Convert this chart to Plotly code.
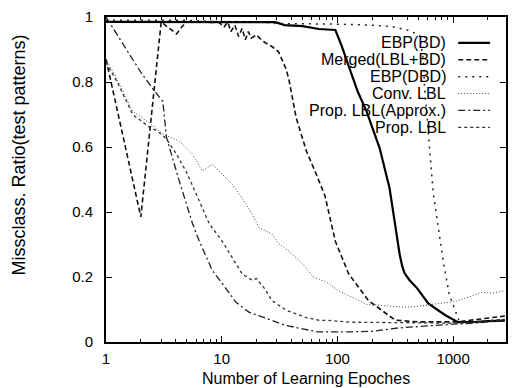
import plotly.graph_objects as go

# ---------------- data ----------------
labels = ["EBP(BD)", "Merged(LBL+BD)", "EBP(DBD)", "Conv. LBL",
          "Prop. LBL(Approx.)", "Prop. LBL"]

ebp_bd_x = [1, 2, 5, 10, 20, 29, 35, 50, 69, 96, 108, 128, 150, 179, 232, 282,
            300, 324, 345, 362, 380, 420, 482, 610, 850, 1100, 1300, 1600, 2000,
            2800]
ebp_bd_y = [0.985, 0.985, 0.985, 0.985, 0.985, 0.984, 0.975, 0.972, 0.963, 0.96,
            0.914, 0.841, 0.77, 0.709, 0.596, 0.474, 0.41, 0.321, 0.27, 0.235,
            0.212, 0.19, 0.168, 0.119, 0.083, 0.061, 0.061, 0.062, 0.064, 0.066]

merged_x = [1, 2, 3, 4.07, 4.9, 7, 9.5, 10.5, 11.3, 12, 13, 14, 15, 16, 17, 18,
            20, 22, 24, 27, 31, 36, 38, 44, 54, 65, 78, 96, 125, 185, 260, 316,
            500, 800, 1100, 1500, 2000, 2800]
merged_y = [0.87, 0.385, 0.985, 0.948, 0.985, 0.985, 0.983, 0.97, 0.985, 0.955,
            0.975, 0.94, 0.965, 0.93, 0.955, 0.935, 0.945, 0.93, 0.92, 0.91, 0.893,
            0.84, 0.81, 0.69, 0.587, 0.52, 0.45, 0.31, 0.21, 0.128, 0.089, 0.067,
            0.062, 0.061, 0.062, 0.068, 0.074, 0.08]

ebp_dbd_x = [1, 5, 10, 20, 30, 50, 100, 200, 300, 400, 511, 553, 565, 611, 648,
             674, 745, 822, 925, 1040, 1128, 1500, 2000, 2800]
ebp_dbd_y = [0.99, 0.99, 0.985, 0.985, 0.98, 0.98, 0.978, 0.975, 0.97, 0.96,
             0.945, 0.87, 0.79, 0.64, 0.517, 0.456, 0.352, 0.248, 0.147, 0.098,
             0.064, 0.062, 0.066, 0.07]

conv_x = [1, 1.24, 1.7, 2.25, 3.1, 4.3, 5.6, 6.8, 8.3, 10.1, 12.3, 15, 18.3, 21,
          24, 27, 31, 38.6, 50, 62, 80, 104, 140, 177, 250, 390, 500, 667, 850,
          1050, 1400, 1780, 2200, 2800]
conv_y = [0.87, 0.81, 0.71, 0.68, 0.64, 0.618, 0.578, 0.526, 0.547, 0.517, 0.486,
          0.443, 0.394, 0.352, 0.343, 0.333, 0.303, 0.278, 0.24, 0.20, 0.185,
          0.156, 0.135, 0.116, 0.112, 0.107, 0.11, 0.116, 0.12, 0.125, 0.14,
          0.153, 0.15, 0.158]

approx_x = [1, 1.5, 2, 2.53, 3.1, 3.33, 4.3, 5.6, 6.4, 7.4, 8.3, 10.1, 13.3, 17.2,
            22, 27, 35, 46, 68, 124, 200, 333, 600, 1000, 1500, 2000, 2800]
approx_y = [1.0, 0.9, 0.83, 0.78, 0.74, 0.63, 0.495, 0.364, 0.31, 0.26, 0.22, 0.18,
            0.122, 0.092, 0.078, 0.067, 0.052, 0.043, 0.031, 0.031, 0.033, 0.043,
            0.05, 0.055, 0.058, 0.062, 0.067]

prop_x = [1, 1.25, 1.7, 2.4, 2.75, 3.3, 4.07, 5, 6.4, 7.8, 10.1, 12, 15, 18.3, 20,
          24, 27, 36, 53, 69, 90, 124, 200, 333, 600, 1000, 1500, 2000, 2800]
prop_y = [0.86, 0.80, 0.70, 0.66, 0.65, 0.627, 0.578, 0.52, 0.434, 0.364, 0.31,
          0.265, 0.21, 0.19, 0.195, 0.16, 0.128, 0.098, 0.076, 0.067, 0.066, 0.061,
          0.06, 0.058, 0.058, 0.058, 0.06, 0.065, 0.07]

xs = [ebp_bd_x, merged_x, ebp_dbd_x, conv_x, approx_x, prop_x]
ys = [ebp_bd_y, merged_y, ebp_dbd_y, conv_y, approx_y, prop_y]

x_tickvals = [1, 10, 100, 1000]
x_ticktext = ["1", "10", "100", "1000"]
x_minor = [m * d for d in (1, 10, 100, 1000) for m in range(2, 10)]
y_tickvals = [0, 0.2, 0.4, 0.6, 0.8, 1]
y_ticktext = ["0", "0.2", "0.4", "0.6", "0.8", "1"]

x_title = "Number of Learning Epoches"
y_title = "Missclass. Ratio(test patterns)"

# ---------------- styles ----------------
styles = [
    dict(width=2.2, dash="solid", color="#000"),
    dict(width=1.6, dash="5px,3px", color="#111"),
    dict(width=1.5, dash="2px,5px", color="#222"),
    dict(width=1.0, dash="1px,2px", color="#444"),
    dict(width=1.3, dash="7px,3px,2px,3px", color="#222"),
    dict(width=1.3, dash="3px,3px", color="#333"),
]

W, H = 516, 388
L, R, T, B = 106, 8, 15, 46
PW, PH = W - L - R, H - T - B

fig = go.Figure()
for lab, x, y, st in zip(labels, xs, ys, styles):
    fig.add_trace(go.Scatter(x=x, y=y, mode="lines", name=lab, line=st,
                             showlegend=False))

font = "Liberation Sans, Arial, sans-serif"

# manual legend (text right-aligned, sample on the right)
leg_y_px = [41, 58, 75, 92, 109, 126]
for lab, st, ypx in zip(labels, styles, leg_y_px):
    yp = (H - B - ypx) / PH
    fig.add_annotation(x=(450 - L) / PW, y=yp, xref="paper", yref="paper",
                       text=lab, showarrow=False, xanchor="right",
                       yanchor="middle", font=dict(family=font, size=16,
                                                   color="#000"))
    fig.add_shape(type="line", xref="paper", yref="paper",
                  x0=(460 - L) / PW, x1=(492 - L) / PW, y0=yp, y1=yp,
                  line=dict(color=st["color"], width=st["width"],
                            dash=st["dash"]))

fig.add_annotation(x=0.5, y=-(378.5 - (H - B)) / PH, xref="paper", yref="paper",
                   text=x_title, showarrow=False, xanchor="center",
                   yanchor="middle", font=dict(family=font, size=16, color="#000"))
fig.add_annotation(x=(19 - L) / PW, y=(H - B - 154) / PH, xref="paper",
                   yref="paper", text=y_title, showarrow=False, textangle=-90,
                   xanchor="center", yanchor="middle",
                   font=dict(family=font, size=18, color="#000"))

fig.update_layout(
    width=W, height=H,
    margin=dict(l=L, r=R, t=T, b=B),
    paper_bgcolor="white", plot_bgcolor="white",
    font=dict(family=font, size=15, color="#000"),
)
fig.update_xaxes(type="log", range=[0, 3.457],
                 tickvals=x_tickvals, ticktext=x_ticktext,
                 ticks="inside", ticklen=6, tickwidth=1.2, tickcolor="#000",
                 minor=dict(tickvals=x_minor, ticks="inside", ticklen=3,
                            tickcolor="#000", showgrid=False),
                 showline=True, linecolor="#000", linewidth=2, mirror="ticks",
                 showgrid=False, zeroline=False, ticklabelstandoff=2)
fig.update_yaxes(range=[0, 1], tickvals=y_tickvals, ticktext=y_ticktext,
                 ticks="inside", ticklen=6, tickwidth=1.2, tickcolor="#000",
                 showline=True, linecolor="#000", linewidth=2, mirror="ticks",
                 showgrid=False, zeroline=False, ticklabelstandoff=8)

fig.write_html("out.html")
